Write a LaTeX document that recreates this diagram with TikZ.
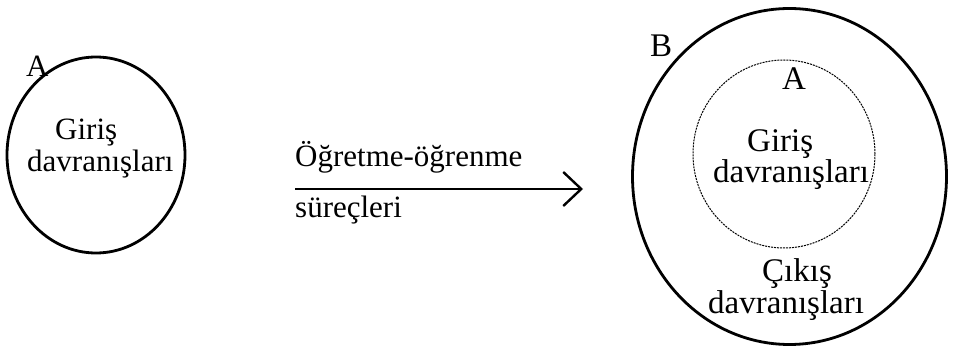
\documentclass[tikz,border=0pt]{standalone}
\usepackage{fontspec}
\setmainfont{Liberation Serif}
\usetikzlibrary{shapes.geometric,arrows.meta}
\begin{document}
\begin{tikzpicture}[x=1pt,y=-1pt,
 lbl/.style={font=\fontsize{31}{36}\selectfont, inner sep=0pt, anchor=base west},
 biglbl/.style={font=\fontsize{33}{38}\selectfont, inner sep=0pt, anchor=base west},
 solidring/.style={draw, ellipse, line width=2.8pt, inner sep=0pt},
 dotring/.style={draw, ellipse, line width=1pt, dash pattern=on 2pt off 1pt, inner sep=0pt},
 flow/.style={line width=2.2pt, -{Straight Barb[length=18pt,width=34pt,line width=2.4pt]}}]
\useasboundingbox (0,0) rectangle (961,347);
% left circle
\node[solidring, minimum width=178pt, minimum height=196pt] (leftA) at (96,155) {};
\node[lbl] (labA) at (26,77) {A};
\node[lbl] (giris1) at (55,140) {Giriş};
\node[lbl] (davr1) at (27,172) {davranışları};
% arrow
\coordinate (arrS) at (295,189);
\coordinate (arrE) at (583,189);
\draw[flow] (arrS) -- (arrE);
\node[lbl] (ogr) at (295,167) {Öğretme-öğrenme};
\node[lbl] (surec) at (295,218) {süreçleri};
% right circles
\node[solidring, minimum width=314pt, minimum height=336pt] (rightB) at (789.5,176.5) {};
\node[dotring, minimum width=182pt, minimum height=188pt] (innerA) at (784,154) {};
\node[biglbl] (labB) at (650,57) {B};
\node[biglbl] (labA2) at (782,90) {A};
\node[biglbl] (giris2) at (747,152) {Giriş};
\node[biglbl] (davr2) at (713,183) {davranışları};
\node[biglbl] (cikis) at (762,282) {Çıkış};
\node[biglbl] (davr3) at (708,313) {davranışları};
\end{tikzpicture}
\end{document}
